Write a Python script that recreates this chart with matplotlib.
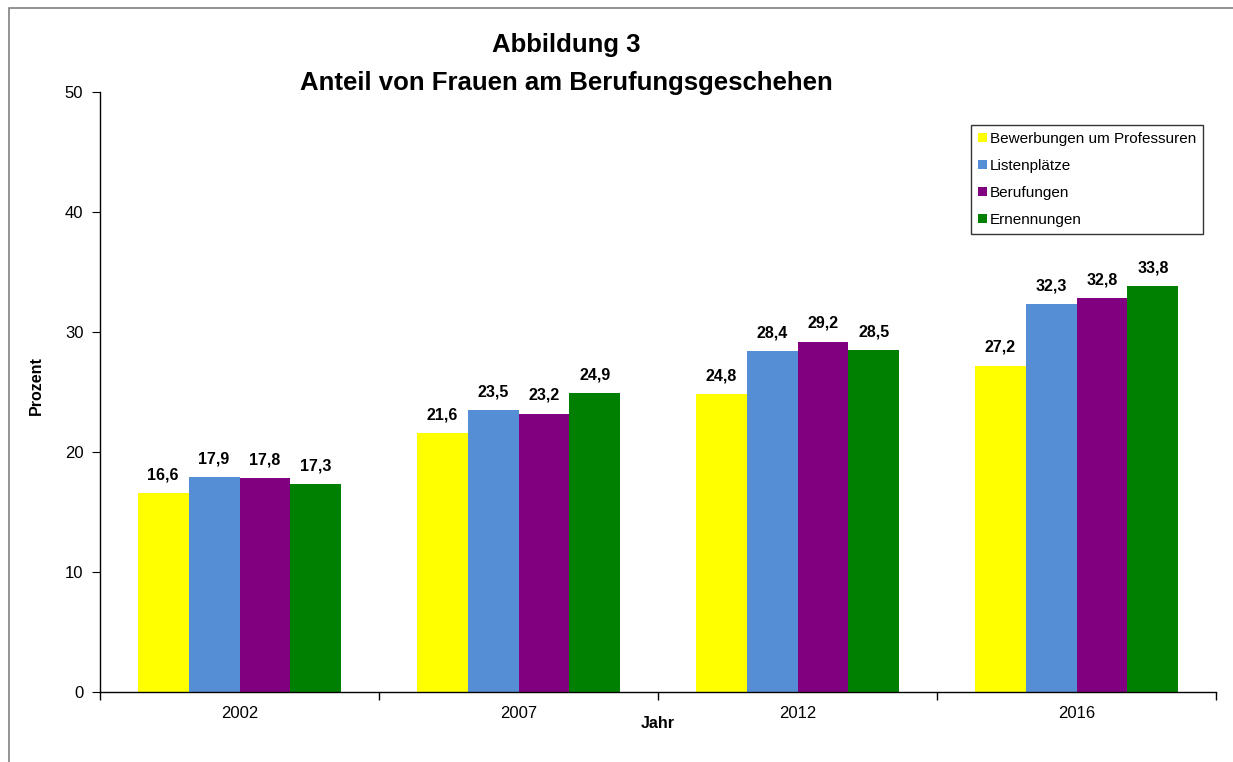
import numpy as np
import matplotlib.pyplot as plt
from matplotlib.patches import Rectangle

plt.rcParams['font.family'] = ['Liberation Sans', 'DejaVu Sans']

# Daten
jahre = ['2002', '2007', '2012', '2016']
serien = ['Bewerbungen um Professuren', 'Listenplätze', 'Berufungen', 'Ernennungen']
bewerbungen = [16.6, 21.6, 24.8, 27.2]
listenplaetze = [17.9, 23.5, 28.4, 32.3]
berufungen = [17.8, 23.2, 29.2, 32.8]
ernennungen = [17.3, 24.9, 28.5, 33.8]
farben = ['#FFFF00', '#558ED5', '#800080', '#008000']

werte = [bewerbungen, listenplaetze, berufungen, ernennungen]

fig = plt.figure(figsize=(12.33, 7.62), dpi=100)
ax = fig.add_axes([100 / 1233, 70 / 762, 1116 / 1233, 600 / 762])

# Rahmen des Diagrammbereichs (nur oben und links sichtbar)
fig.patches.append(Rectangle((9 / 1233, -0.1), 1.2, (754 / 762) + 0.1,
                             transform=fig.transFigure, fill=False,
                             edgecolor='#808080', linewidth=1.2))

x = np.arange(len(jahre))
breite = 0.73 / 4
for i, (name, w) in enumerate(zip(serien, werte)):
    pos = x - 0.73 / 2 + breite * (i + 0.5)
    ax.bar(pos, w, width=breite, color=farben[i], label=name, edgecolor='none')
    for p, v in zip(pos, w):
        ax.text(p, v + 0.9, f'{v:.1f}'.replace('.', ','), ha='center', va='bottom',
                fontsize=11.5, fontweight='bold')

ax.set_xlim(-0.5, len(jahre) - 0.5)
ax.set_ylim(0, 50)
ax.set_yticks(range(0, 51, 10))
ax.set_xticks(x)
ax.set_xticklabels(jahre, fontsize=12)
ax.set_xticks(np.arange(-0.5, len(jahre), 1), minor=True)
ax.tick_params(axis='x', which='major', length=0, pad=10)
ax.tick_params(axis='x', which='minor', length=6, direction='out', width=1)
ax.tick_params(axis='y', labelsize=12, length=6, direction='out', pad=6)

for s in ['top', 'right']:
    ax.spines[s].set_visible(False)
ax.spines['left'].set_linewidth(1)
ax.spines['bottom'].set_linewidth(1)

ax.set_ylabel('Prozent', fontsize=11.5, fontweight='bold')
ax.yaxis.set_label_coords(-56 / 1116, 0.51)
ax.set_xlabel('Jahr', fontsize=11.5, fontweight='bold')
ax.xaxis.set_label_coords(0.5, -24 / 600)

fig.text(566 / 1233, 1 - 45 / 762, 'Abbildung 3', ha='center', va='center',
         fontsize=18.5, fontweight='bold')
fig.text(566 / 1233, 1 - 83 / 762, 'Anteil von Frauen am Berufungsgeschehen',
         ha='center', va='center', fontsize=18.5, fontweight='bold')

leg = ax.legend(loc='upper left', bbox_to_anchor=(971 / 1233, 1 - 125 / 762),
                bbox_transform=fig.transFigure, fontsize=11, frameon=True,
                fancybox=False, edgecolor='black', handlelength=0.6,
                handleheight=0.6, handletextpad=0.2, labelspacing=0.85,
                borderpad=0.45, borderaxespad=0)
leg.get_frame().set_linewidth(1)

fig.savefig('out.png', dpi=100)
